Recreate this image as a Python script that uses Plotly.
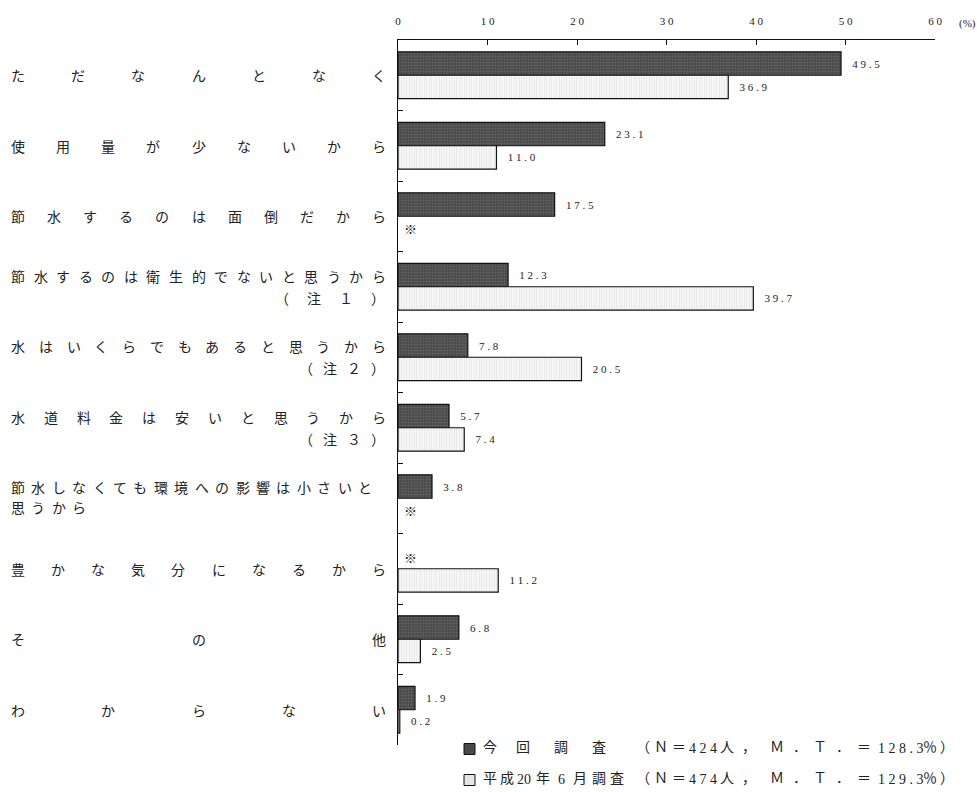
import plotly.graph_objects as go

# ---- data -------------------------------------------------------------
categories = [
    "ただなんとなく",
    "使用量が少ないから",
    "節水するのは面倒だから",
    "節水するのは衛生的でないと思うから（注１）",
    "水はいくらでもあると思うから（注２）",
    "水道料金は安いと思うから（注３）",
    "節水しなくても環境への影響は小さいと思うから",
    "豊かな気分になるから",
    "その他",
    "わからない",
]
current = [49.5, 23.1, 17.5, 12.3, 7.8, 5.7, 3.8, None, 6.8, 1.9]
previous = [36.9, 11.0, None, 39.7, 20.5, 7.4, None, 11.2, 2.5, 0.2]
series_names = ["今回調査", "平成20年6月調査"]
series_n = ["424", "474"]
series_mt = ["128.3", "129.3"]
x_ticks = [0, 10, 20, 30, 40, 50, 60]

# ---- geometry ---------------------------------------------------------
W, H = 977, 792
L, R, T, B = 398, 42, 40, 47
PW, PH = W - L - R, H - T - B

def px_x(px):
    return (px - L) / PW

def px_y(py):
    return (H - B - py) / PH

SERIF = "Liberation Serif, Noto Sans CJK JP"
JP = "Noto Sans CJK JP"
INK = "#222222"
EN = "\u2002"
GAP = "\u2005"   # quarter-em space between digits

def spread(s):
    return GAP.join(s)

def spaced(v):
    return EN + GAP + spread(f"{v:.1f}")

DARK = dict(color="#4a4a4a", line=dict(color="#111111", width=1.2),
            pattern=dict(shape=".", fgcolor="#7c7c7c", size=3, solidity=0.35))
LIGHT = dict(color="#ffffff", line=dict(color="#111111", width=1.2),
             pattern=dict(shape="|", fgcolor="#c8c8c8", size=2.5, solidity=0.5))

fig = go.Figure()
for vals, name, style in ((current, series_names[0], DARK),
                          (previous, series_names[1], LIGHT)):
    fig.add_trace(go.Bar(
        x=vals, y=categories, orientation="h", name=name, marker=style,
        text=["" if v is None else spaced(v) for v in vals],
        textposition="outside", cliponaxis=False,
        textfont=dict(family=SERIF, size=11, color=INK),
        showlegend=False,
    ))

annotations = []

def put(text, x, py, size=14, family=JP, anchor="center", dy=9):
    annotations.append(dict(
        x=px_x(x), xref="paper", y=px_y(py + dy), yref="paper",
        text=text, showarrow=False, xanchor=anchor,
        font=dict(family=family, size=size, color=INK),
    ))

# category labels, characters spread across the label column
label_lines = {
    3: [("節水するのは衛生的でないと思うから", 18, 379, -11), ("（注１）", 282, 378, 11)],
    4: [("水はいくらでもあると思うから", 18, 379, -11), ("（注２）", 306, 378, 11)],
    5: [("水道料金は安いと思うから", 18, 379, -11), ("（注３）", 306, 378, 11)],
    6: [("節水しなくても環境への影響は小さいと", 18, 365, -11), ("思うから", 18, 79, 9)],
}
for i, cat in enumerate(categories):
    lines = label_lines.get(i, [(cat, 18, 379, 0)])
    for text, x0, x1, dy in lines:
        n = len(text)
        step = (x1 - x0) / (n - 1) if n > 1 else 0
        for k, ch in enumerate(text):
            annotations.append(dict(
                x=px_x(x0 + k * step), xref="paper", y=i, yref="y",
                yshift=-dy, text=ch, showarrow=False, xanchor="center",
                font=dict(family=JP, size=14, color=INK),
            ))

# "no data" marks
for vals, shift in ((current, 11.75), (previous, -11.75)):
    for i, v in enumerate(vals):
        if v is None:
            annotations.append(dict(
                x=0, xref="x", y=i, yref="y", yshift=shift, xshift=4,
                text="※", showarrow=False, xanchor="left",
                font=dict(family=JP, size=13, color=INK),
            ))

# unit label
put("(%)", 957, 15, size=11, family=SERIF, anchor="left", dy=0)

# legend rows
shapes = []
legend_rows = [749, 780]
for r, py in enumerate(legend_rows):
    shapes.append(dict(type="rect", xref="paper", yref="paper",
                       x0=px_x(464), x1=px_x(475), y0=px_y(py + 5.5), y1=px_y(py - 5.5),
                       fillcolor="#4a4a4a" if r == 0 else "#e6e6e6",
                       line=dict(color="#111111", width=1)))
    if r == 0:
        head = list(zip(series_names[0], (490, 523, 561, 599)))
    else:
        head = [("平", 490), ("成", 507), ("20", 524), ("年", 543), ("6", 561),
                ("月", 580), ("調", 599), ("査", 617)]
    tail = [("（", 643), ("Ｎ", 661), ("＝", 679), (spread(series_n[r]), 703), ("人", 727),
            ("，", 749), ("Ｍ", 777), ("．", 800), ("Ｔ", 820), ("．", 843),
            ("＝", 864), (spread(series_mt[r]), 901), ("％", 930), ("）", 947)]
    for txt, x in head + tail:
        fam = SERIF if txt[0].isdigit() else JP
        put(txt, x, py, size=14, family=fam)

fig.update_layout(
    width=W, height=H,
    margin=dict(l=L, r=R, t=T, b=B),
    paper_bgcolor="white", plot_bgcolor="white",
    barmode="group", bargap=0.335, bargroupgap=0,
    annotations=annotations, shapes=shapes,
    xaxis=dict(
        side="top", range=[0, 60], tickvals=x_ticks,
        ticktext=[spread(str(t)) for t in x_ticks],
        ticks="inside", ticklen=5, tickcolor="#111111",
        showline=True, linecolor="#111111", linewidth=1.2,
        showgrid=False, zeroline=False, ticklabelstandoff=10,
        tickfont=dict(family=SERIF, size=11, color=INK),
    ),
    yaxis=dict(
        autorange="reversed", showticklabels=False,
        ticks="inside", ticklen=5, tickcolor="#111111", tickson="boundaries",
        showline=True, linecolor="#111111", linewidth=1.2,
        showgrid=False, zeroline=False,
    ),
)

fig.write_html("out.html")
